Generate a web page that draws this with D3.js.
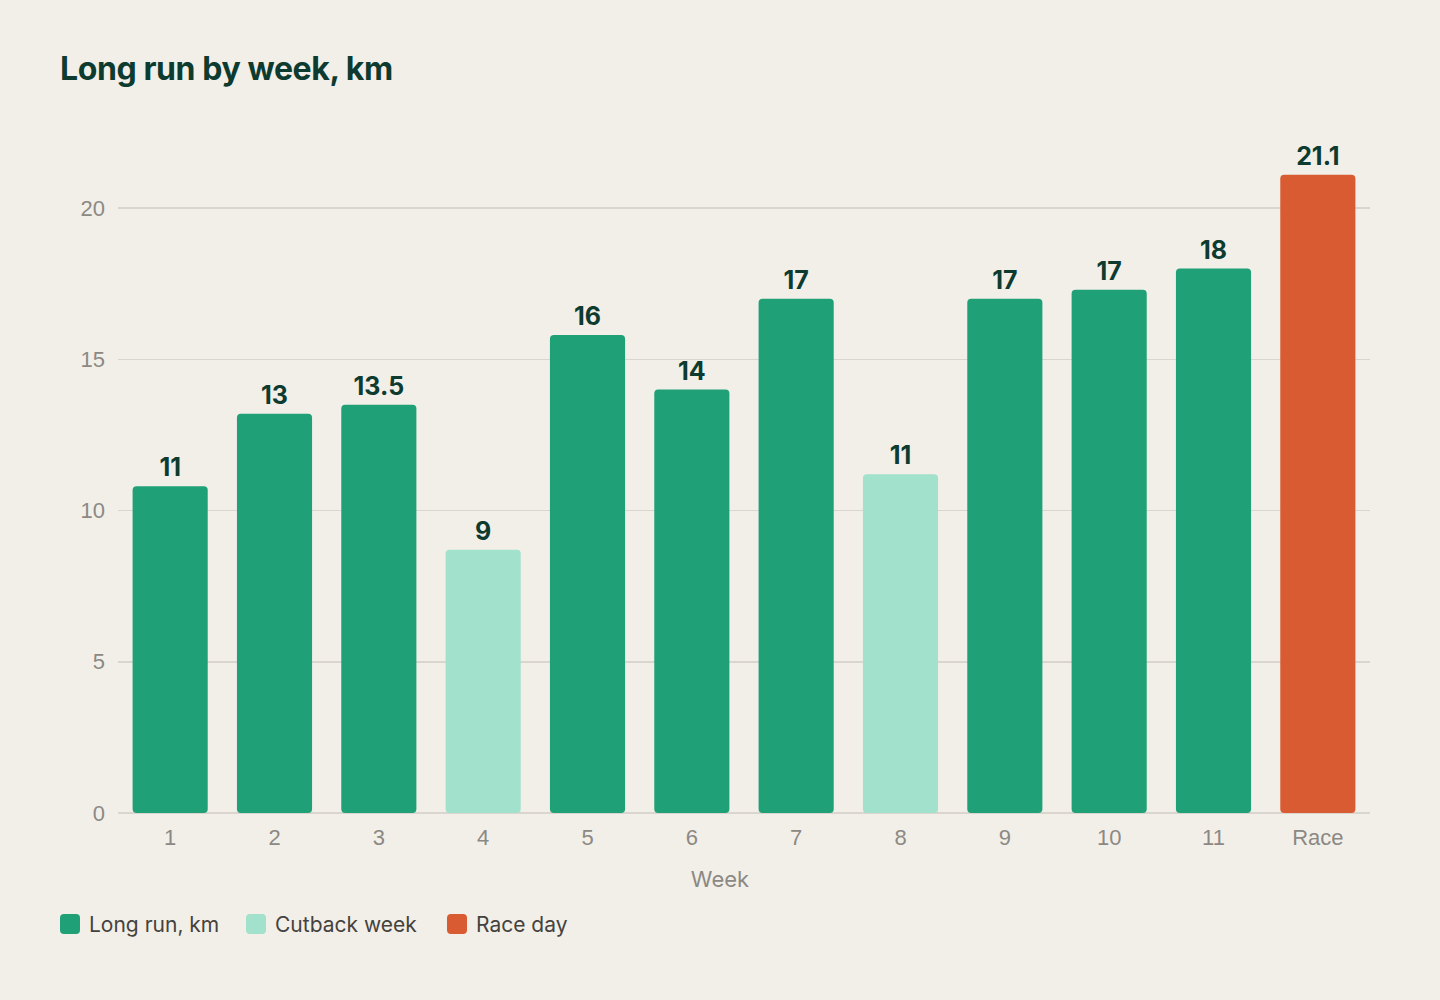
<!DOCTYPE html>
<html>
<head>
  <title>Long run by week</title>
  <script src="https://d3js.org/d3.v7.min.js"></script>
  <style>
    body {
      margin: 0;
      background-color: #f2efe9;
      font-family: Inter, "Noto Sans", sans-serif;
    }

    .title {
      font-size: 32px;
      font-weight: 700;
      fill: #0d3b2f;
      letter-spacing: -0.4px;
    }

    .grid line {
      stroke: #dad6cf;
      stroke-width: 1.5px;
      shape-rendering: crispEdges;
    }

    .axis text {
      font-size: 22px;
      fill: #8c8984;
    }

    .value-label {
      font-size: 25px;
      font-weight: 700;
      fill: #0d3b2f;
    }

    .legend text {
      font-size: 21px;
      fill: #45423d;
    }
  </style>
</head>
<body>
  <svg id="chart"></svg>

  <script>
    // Data
    const weeks = ["1", "2", "3", "4", "5", "6", "7", "8", "9", "10", "11", "Race"];
    const distances = [10.8, 13.2, 13.5, 8.7, 15.8, 14, 17, 11.2, 17, 17.3, 18, 21.1];
    const valueLabels = ["11", "13", "13.5", "9", "16", "14", "17", "11", "17", "17", "18", "21.1"];
    const weekTypes = ["long", "long", "long", "cutback", "long", "long", "long", "cutback", "long", "long", "long", "race"];
    const yTicks = [0, 5, 10, 15, 20];
    const legendNames = ["Long run, km", "Cutback week", "Race day"];
    const legendKeys = ["long", "cutback", "race"];

    const colors = { long: "#1fa077", cutback: "#a2e1cc", race: "#d95b32" };

    // Chart dimensions
    const width = 1440;
    const height = 1000;
    const margin = { top: 150, right: 70, bottom: 187, left: 118 };

    const svg = d3.select("#chart")
                  .attr("width", width)
                  .attr("height", height);

    svg.append("text")
       .attr("class", "title")
       .attr("x", 60)
       .attr("y", 80)
       .text("Long run by week, km");

    // Scales
    const xScale = d3.scaleBand()
                     .domain(weeks)
                     .range([margin.left, width - margin.right])
                     .paddingInner(0.28)
                     .paddingOuter(0.14);

    const yScale = d3.scaleLinear()
                     .domain([0, 20])
                     .range([height - margin.bottom, 208]);

    // Gridlines
    svg.append("g")
       .attr("class", "grid")
       .selectAll("line")
       .data(yTicks)
       .enter()
       .append("line")
       .attr("x1", margin.left)
       .attr("x2", width - margin.right)
       .attr("y1", d => yScale(d))
       .attr("y2", d => yScale(d));

    // Y axis labels
    const yAxis = d3.axisLeft(yScale).tickValues(yTicks).tickSize(0).tickPadding(13);
    svg.append("g")
       .attr("class", "axis")
       .attr("transform", `translate(${margin.left}, 0)`)
       .call(yAxis)
       .call(g => g.select(".domain").remove())
       .selectAll("text")
       .attr("font-family", null)
       .attr("font-size", null);

    // Bars
    const bars = weeks.map((w, i) => ({ week: w, value: distances[i], label: valueLabels[i], type: weekTypes[i] }));

    svg.selectAll("rect.bar")
       .data(bars)
       .enter()
       .append("rect")
       .attr("class", "bar")
       .attr("x", d => xScale(d.week))
       .attr("y", d => yScale(d.value))
       .attr("width", xScale.bandwidth())
       .attr("height", d => yScale(0) - yScale(d.value))
       .attr("rx", 4)
       .attr("fill", d => colors[d.type]);

    svg.selectAll("text.value-label")
       .data(bars)
       .enter()
       .append("text")
       .attr("class", "value-label")
       .attr("x", d => xScale(d.week) + xScale.bandwidth() / 2)
       .attr("y", d => yScale(d.value) - 10)
       .attr("text-anchor", "middle")
       .text(d => d.label);

    // X axis labels
    const xAxis = d3.axisBottom(xScale).tickSize(0).tickPadding(16);
    svg.append("g")
       .attr("class", "axis")
       .attr("transform", `translate(0, ${yScale(0)})`)
       .call(xAxis)
       .call(g => g.select(".domain").remove())
       .selectAll("text")
       .attr("font-family", null)
       .attr("font-size", null);

    svg.append("text")
       .attr("x", width / 2)
       .attr("y", 887)
       .attr("text-anchor", "middle")
       .style("font-size", "22px")
       .style("fill", "#8c8984")
       .text("Week");

    // Legend
    const legend = svg.append("g").attr("class", "legend");
    const legendX = [60, 246, 447];

    legendKeys.forEach((k, i) => {
      const item = legend.append("g").attr("transform", `translate(${legendX[i]}, 914)`);
      item.append("rect")
          .attr("width", 20)
          .attr("height", 20)
          .attr("rx", 4)
          .attr("fill", colors[k]);
      item.append("text")
          .attr("x", 29)
          .attr("y", 18)
          .text(legendNames[i]);
    });
  </script>
</body>
</html>
